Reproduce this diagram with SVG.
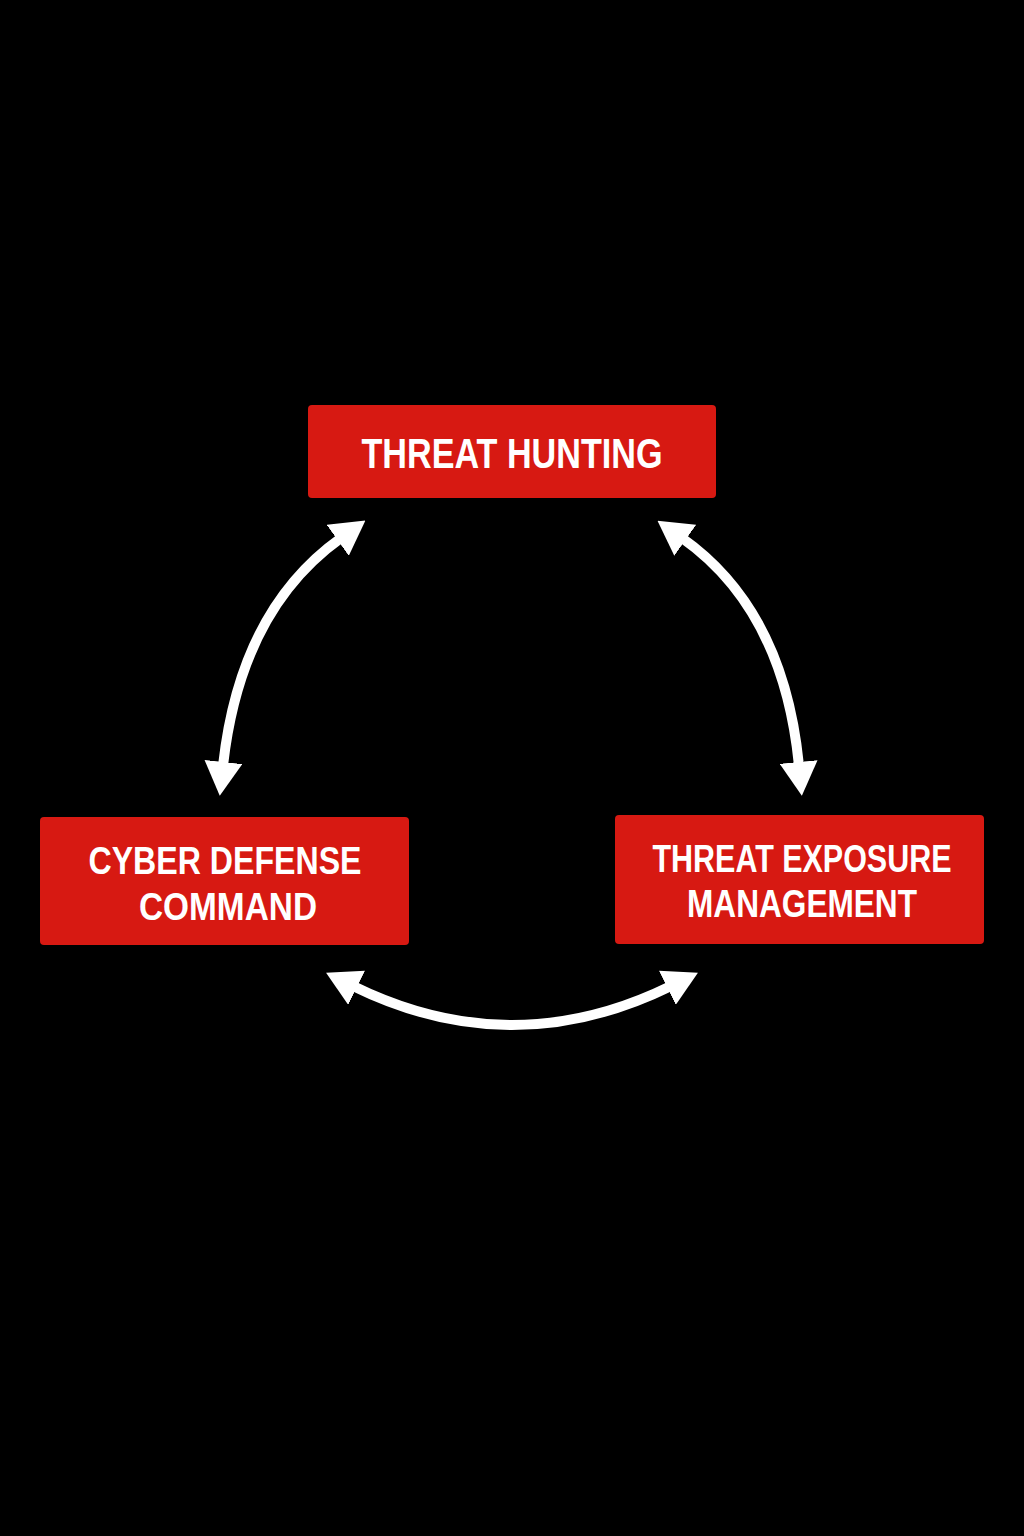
<svg xmlns="http://www.w3.org/2000/svg" width="1024" height="1536" viewBox="0 0 1024 1536">
  <style>
    .box { fill: #d71912; }
    .label { fill: #ffffff; font-family: "Liberation Sans", Arial, sans-serif; font-weight: bold; text-anchor: middle; }
    .conn { fill: none; stroke: #ffffff; stroke-width: 10; }
  </style>
  <defs>
    <marker id="head" viewBox="0 0 34 38" refX="4" refY="19" markerWidth="34" markerHeight="38" markerUnits="userSpaceOnUse" orient="auto-start-reverse">
      <path d="M0,0 L34,19 L0,38 Z" fill="#ffffff"/>
    </marker>
  </defs>
  <rect width="1024" height="1536" fill="#000000"/>
  <g id="threat-hunting">
    <rect class="box" x="308" y="405" width="408" height="93" rx="4"/>
    <text class="label" x="512" y="468" font-size="42" textLength="301" lengthAdjust="spacingAndGlyphs">THREAT HUNTING</text>
  </g>
  <g id="cyber-defense-command">
    <rect class="box" x="40" y="817" width="369" height="128" rx="4"/>
    <text class="label" x="225" y="874" font-size="38" textLength="273" lengthAdjust="spacingAndGlyphs">CYBER DEFENSE</text>
    <text class="label" x="228" y="920" font-size="38" textLength="178" lengthAdjust="spacingAndGlyphs">COMMAND</text>
  </g>
  <g id="threat-exposure-management">
    <rect class="box" x="615" y="815" width="369" height="129" rx="4"/>
    <text class="label" x="802" y="872" font-size="38" textLength="299" lengthAdjust="spacingAndGlyphs">THREAT EXPOSURE</text>
    <text class="label" x="802" y="917" font-size="38" textLength="230" lengthAdjust="spacingAndGlyphs">MANAGEMENT</text>
  </g>
  <g id="connectors">
    <path class="conn" d="M 223 766 Q 240 610 341 538" marker-start="url(#head)" marker-end="url(#head)"/>
    <path class="conn" d="M 799 766 Q 784 610 682 538" marker-start="url(#head)" marker-end="url(#head)"/>
    <path class="conn" d="M 353 986 Q 512 1064 671 986" marker-start="url(#head)" marker-end="url(#head)"/>
  </g>
</svg>
